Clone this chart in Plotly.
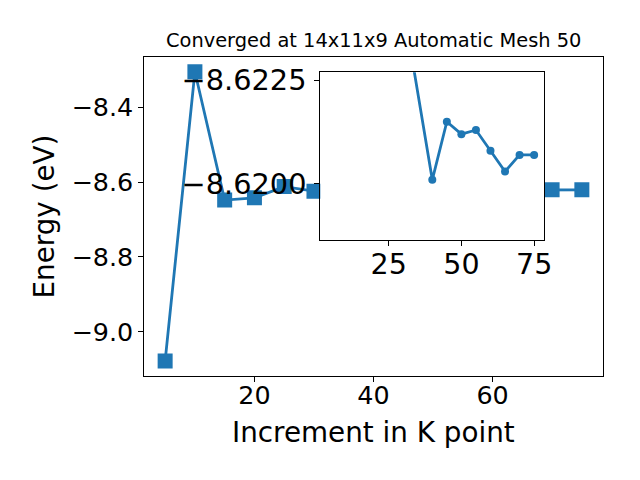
import plotly.graph_objects as go

# ---- data ----
k_points = [5, 10, 15, 20, 25, 30, 40, 45, 50, 55, 60, 65, 70, 75]
energy = [-9.078, -8.305, -8.648, -8.642, -8.612, -8.6243, -8.6201,
          -8.6215, -8.6212, -8.6213, -8.6208, -8.6203, -8.6207, -8.6207]
inset_start = 5  # the zoomed inset shows the points from k = 30 on

main_x_ticks = [20, 40, 60]
main_y_ticks = [-9.0, -8.8, -8.6, -8.4]
inset_x_ticks = [25, 50, 75]
inset_y_ticks = [-8.6225, -8.6200]

title_text = "Converged at 14x11x9 Automatic Mesh 50"
x_title = "Increment in K point"
y_title = "Energy (eV)"

BLUE = "#1f77b4"
FONT = "DejaVu Sans"
# the page body has an 8px margin; keep the figure inside the 640x480 window
OFF = 8
W, H = 640 - 2 * OFF, 480 - 2 * OFF


def px_x(p):
    return (p - OFF) / W


def px_y(p):
    return (H - (p - OFF)) / H


def minus(s):
    return s.replace("-", "\u2212")


fig = go.Figure()

fig.add_trace(go.Scatter(
    x=k_points, y=energy, mode="lines+markers",
    line=dict(color=BLUE, width=2.8),
    marker=dict(symbol="square", size=15, color=BLUE),
    xaxis="x", yaxis="y", showlegend=False, hoverinfo="skip"))

fig.add_trace(go.Scatter(
    x=k_points[inset_start:], y=energy[inset_start:], mode="lines+markers",
    line=dict(color=BLUE, width=2.8),
    marker=dict(symbol="circle", size=8, color=BLUE),
    xaxis="x2", yaxis="y2", showlegend=False, hoverinfo="skip"))

axis_common = dict(
    ticks="outside", ticklen=5, tickwidth=1.1, tickcolor="black",
    showline=True, linecolor="black", linewidth=1.1, mirror=True,
    showgrid=False, zeroline=False, automargin=False,
)

fig.update_layout(
    template="none",
    width=W, height=H,
    margin=dict(l=0, r=0, t=0, b=0, pad=0),
    paper_bgcolor="white", plot_bgcolor="white",
    font=dict(family=FONT, color="black"),
    showlegend=False,
    xaxis=dict(
        domain=[px_x(144.3), px_x(602.7)], anchor="y",
        range=[1.5, 78.5],
        tickvals=main_x_ticks, ticktext=[str(v) for v in main_x_ticks],
        ticklabelstandoff=-8,
        tickfont=dict(size=25.4, family=FONT), **axis_common),
    yaxis=dict(
        domain=[px_y(375.7), px_y(57)], anchor="x",
        range=[-9.1176, -8.2655],
        tickvals=main_y_ticks,
        ticktext=[minus(f"{v:.1f}") for v in main_y_ticks],
        tickfont=dict(size=25.4, family=FONT), **axis_common),
    xaxis2=dict(
        domain=[px_x(320.3), px_x(544.3)], anchor="y2",
        range=[1.5, 78.5],
        tickvals=inset_x_ticks, ticktext=[str(v) for v in inset_x_ticks],
        ticklabelstandoff=-6,
        tickfont=dict(size=28.5, family=FONT), **axis_common),
    yaxis2=dict(
        domain=[px_y(240), px_y(72.3)], anchor="x2",
        range=[-8.61865, -8.62269],
        tickvals=inset_y_ticks,
        ticktext=[minus(f"{v:.4f}") for v in inset_y_ticks],
        ticklabelstandoff=2,
        tickfont=dict(size=28.8, family=FONT), **axis_common),
    annotations=[
        dict(text=title_text, x=px_x(373.5), y=px_y(54), xref="paper", yref="paper",
             xanchor="center", yanchor="bottom", showarrow=False,
             font=dict(size=19.4, family=FONT)),
        dict(text=x_title, x=px_x(373.5), y=px_y(432), xref="paper", yref="paper",
             xanchor="center", yanchor="middle", showarrow=False,
             font=dict(size=27.8, family=FONT)),
        dict(text=y_title, x=px_x(44), y=px_y(216.5), xref="paper", yref="paper",
             xanchor="center", yanchor="middle", showarrow=False, textangle=-90,
             font=dict(size=27.8, family=FONT)),
    ],
)

fig.write_html("out.html")
